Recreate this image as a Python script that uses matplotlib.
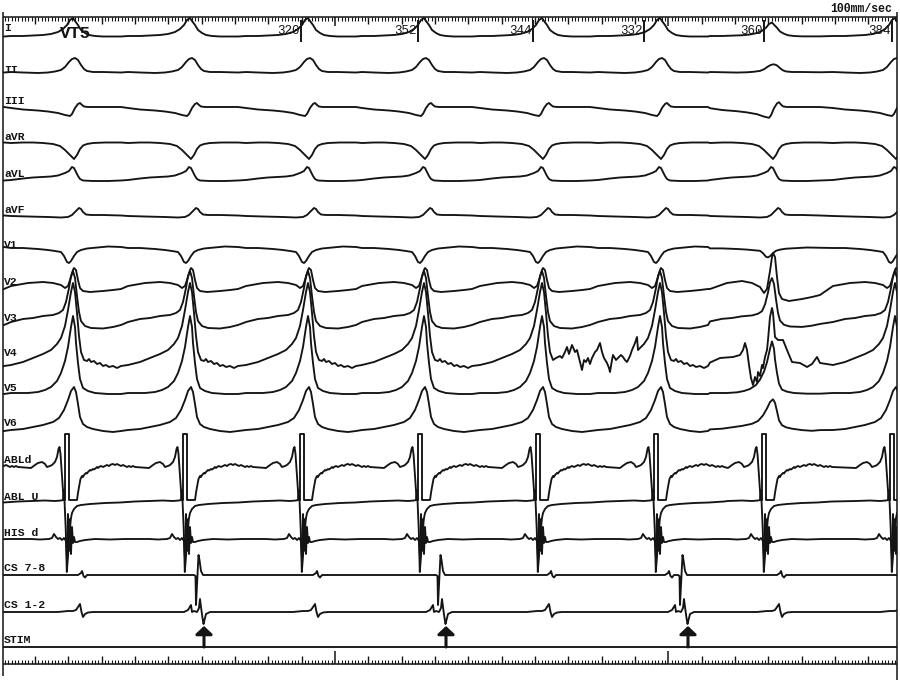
import numpy as np
import matplotlib
matplotlib.use("Agg")
import matplotlib.pyplot as plt
from matplotlib.patches import Rectangle

# ---------------- data (time in ms, amplitudes in px, positive = up) ----------------
qrs_ms = [-132, 219, 570, 924, 1272, 1626, 1980, 2316, 2685]     # surface QRS peaks
abl_ms = [-156, 195, 549, 900, 1254, 1608, 1962, 2286, 2670]     # ABL saturation onset
stim_ms = [612, 1338, 2064]                                      # CS stimuli
cl_values = [320, 352, 344, 332, 360, 384]                       # cycle-length labels
cl_marker_ms = [903, 1255, 1599, 1931, 2291, 2675]
irregular_beat = 7
irregular_gain = {"I": 0.75, "II": 0.55, "III": 1.2, "V1": 0.6, "V2": 2.0,
                  "V3": 0.85, "V4": 0.65, "V5": 0.67, "V6": 0.7}

channel_names = ["I", "II", "III", "aVR", "aVL", "aVF", "V1", "V2", "V3", "V4",
                 "V5", "V6", "ABLd", "ABL U", "HIS d", "CS 7-8", "CS 1-2", "STIM"]

TPL_I = [(-186, 0), (-150, 0), (-120, 0.5), (-90, 1), (-66, 2), (-45, 4), (-30, 7), (-18, 11),
         (-9, 16), (0, 18), (6, 15), (15, 11), (24, 6), (36, 3), (48, 1), (66, 0), (90, -0.5), (144, -0.5)]
TPL_II = [(-186, 0), (-150, -0.5), (-105, -1), (-75, -0.5), (-54, 0.5), (-36, 2), (-24, 5), (-12, 10),
          (-3, 13), (6, 14), (15, 12), (24, 7), (33, 3), (42, 1), (60, 0), (90, 0), (144, -0.5)]
TPL_III = [(-186, -1), (-150, -2.5), (-105, -3.5), (-75, -4.5), (-45, -6), (-24, -8), (-9, -9), (-3, -7),
           (6, -1), (15, 3), (21, 4), (27, 2), (33, 0.5), (45, 0), (90, 0), (144, 0)]
TPL_aVR = [(-186, 0), (-150, 0.5), (-120, 0.5), (-90, 0), (-60, -1), (-39, -3), (-24, -7), (-12, -11),
           (-3, -14), (3, -16), (12, -12), (21, -6), (30, -2.5), (42, -1), (60, 0), (96, 0.5), (144, 0.5)]
TPL_aVL = [(-186, 0), (-150, 1.5), (-120, 2.5), (-90, 3), (-66, 3.5), (-45, 4.5), (-24, 7), (-12, 9),
           (-3, 13), (3, 12), (9, 8), (15, 4), (21, 1), (30, -0.5), (60, -1), (105, -1), (144, -0.5)]
TPL_aVF = [(-186, -1), (-135, -1.5), (-75, -2), (-36, -2.5), (-15, -2), (-3, 0), (9, 4), (18, 7),
           (24, 6), (30, 3), (39, 0.5), (54, 0), (90, 0), (144, -0.5)]
TPL_V1 = [(-186, 1), (-150, 1), (-105, 0), (-75, -1), (-54, -2), (-36, -3), (-27, -7), (-18, -13),
          (-12, -14), (-6, -12), (3, -7), (12, -3), (24, -1), (42, 0.5), (75, 1.5), (105, 2.5), (144, 2)]
TPL_V2 = [(-186, -3), (-135, 0), (-90, 1), (-60, 0), (-36, -2), (-24, -5), (-15, -3), (-6, 6),
          (0, 13), (3, 15), (9, 13), (15, 3), (21, -5), (30, -8), (51, -9), (90, -8), (120, -7), (144, -6)]
TPL_V3 = [(-186, -4), (-150, -1), (-120, 0), (-90, 2), (-60, 3), (-42, 5), (-30, 8), (-21, 16),
          (-12, 30), (-6, 42), (0, 47), (6, 40), (12, 22), (18, 6), (24, -3), (36, -8), (54, -10),
          (90, -10.5), (120, -9), (144, -7)]
TPL_V4 = [(-186, -7), (-150, -4), (-120, 0), (-90, 4), (-66, 8), (-48, 14), (-36, 20), (-24, 32),
          (-15, 48), (-6, 66), (0, 75), (6, 66), (12, 45), (18, 22), (24, 6), (33, -2), (42, -3),
          (48, -1), (54, -4), (63, -3), (72, -6), (81, -5), (90, -8), (99, -7), (108, -9), (120, -8),
          (132, -10), (144, -8)]
TPL_V5 = [(-186, 0), (-135, 0), (-105, 1), (-84, 3), (-66, 6), (-48, 12), (-36, 20), (-24, 32),
          (-15, 46), (-6, 66), (0, 77), (6, 66), (9, 50), (15, 30), (21, 14), (30, 5), (45, 2),
          (66, 0), (105, -1), (144, -1)]
TPL_V6 = [(-186, -2), (-150, -1), (-120, 1), (-90, 3), (-60, 6), (-42, 10), (-27, 18), (-15, 28),
          (-6, 37), (3, 41), (9, 36), (15, 24), (21, 11), (30, 4), (42, 1), (60, -1), (90, -3),
          (120, -4), (144, -3)]

# V4 segments that differ from the repeated complex (noise / irregular beat)
V4_SEG_A = [(1668, 0), (1680, 2), (1686, 0), (1695, 6), (1701, 11), (1707, 4), (1716, 13), (1725, 6),
            (1731, 8), (1740, -4), (1746, -12), (1752, -2), (1758, -4), (1764, 0), (1770, -6),
            (1776, 0), (1785, 6), (1791, 8), (1800, 15), (1806, 6), (1812, 0), (1821, -5),
            (1827, -10), (1830, -14), (1836, -2), (1839, 3), (1848, -2), (1854, 0), (1863, 3),
            (1869, 1), (1875, -2), (1881, -4), (1890, 2), (1896, 8), (1905, 15), (1911, 21)]
V4_SEG_B = [(2160, 0), (2199, 1), (2220, 3), (2229, 8), (2235, 15), (2241, 8), (2247, -7),
            (2253, -20), (2259, -27), (2265, -19), (2271, -24), (2274, -14), (2280, -18),
            (2286, -7), (2289, -10), (2295, 1), (2301, 8), (2304, 18), (2310, 41), (2316, 50),
            (2319, 45), (2325, 21), (2334, 18), (2349, 18), (2361, 8), (2376, -4), (2400, -5),
            (2421, -9), (2436, -6), (2451, 1), (2460, -5)]

TPL_ABLd = [(-102, -2), (-90, 1), (-81, 3), (-69, 4), (-60, 2), (-54, -1), (-45, 0), (-39, 1),
            (-30, 4), (-24, 9), (-19.5, 17), (-16.5, 19), (-13.5, 12), (-9, -10), (-4.5, -32),
            (-1.5, -34), (0, -34), (0, 32), (12, 32), (12, -34), (36, -34), (39, -27), (42, -21),
            (46.5, -13), (51, -10), (54, -11), (57, -9), (63, -7), (66, -7.5), (69, -6), (72, -5),
            (75, -4), (78, -4.5), (84, -3), (87, -3.5), (93, -2), (96, -1), (99, -2), (102, -1),
            (108, 0), (114, -1), (120, 0), (126, 1), (132, 0), (138, 1.5), (144, 2), (150, 1),
            (156, 2), (162, 1), (168, 0), (174, 1), (180, 0), (186, -1), (192, 0), (198, -1),
            (204, 0), (210, -1)]
TPL_ABLU = [(-102, 0), (-60, 0.5), (-30, 0), (-12, 0.5), (-6, 1), (-3.6, 11), (-1.5, 1), (2.4, -30),
            (5.4, -71), (8.4, -58), (12, -40), (15, -26), (18, -17), (21, -12), (27, -8), (36, -5),
            (48, -4), (75, -3), (120, -2), (165, -1.5), (210, -0.5)]
TPL_HIS = [(-102, 0), (-75, -0.5), (-48, 0), (-39, 1), (-33, 5), (-27, 2), (-21, 0), (-15, 1),
           (-9, -1), (-3, 1), (3, -2), (6, -20), (9, 25), (12, -12), (15, 20), (18, -15), (21, 12),
           (24, -4), (27, 2), (30, -3), (36, -3), (45, -2), (60, -1), (90, 0), (135, -0.5),
           (180, 0), (210, 0)]

CS78_NATIVE = [(15, 0), (24, 2), (27, 4), (31.5, -1), (36, -2.5), (42, 0)]
CS78_STIM = [(-30, 0), (-25.5, -1), (-24, -30), (-21, -10), (-16.5, 20), (-13.5, 15), (-9, 4),
             (-3, 0), (6, 0)]
CS12_NATIVE = [(-45, 0), (-15, 1), (0, 1), (9, 2), (15, 5), (21, 8), (25.5, 0), (30, -5), (36, -2),
               (45, -0.5), (60, 0)]
CS12_STIM = [(-60, 0), (-48, 2), (-39, 7), (-36, 0), (-30, 1), (-21, 0), (-15, 4), (-12, 13),
             (-9, 5), (-4.5, -6), (-1.5, -12), (1.5, -8), (6, -2), (12, -1), (18, 0)]

# ---------------- layout ----------------
baseline_px = [36, 72, 107, 143, 180, 215, 249, 283, 318, 358, 393, 428, 466, 501, 539, 575, 612, 647]
label_px = [28, 70, 101, 137, 174, 210, 245, 282, 318, 353, 388, 423, 460, 497, 533, 568, 605, 640]
T_LEFT, T_RIGHT = 9, 2691
INK = "#141414"
MONO = ["Liberation Mono", "DejaVu Sans Mono"]


def repeat_complex(times, tpl, name=None):
    pts = []
    for i, t0 in enumerate(times):
        g = 1.0
        if name is not None and i == irregular_beat:
            g = irregular_gain.get(name, 1.0)
        pts.extend((t0 + dt, a * g) for dt, a in tpl)
    return pts


def replace_segment(pts, seg):
    s0, s1 = seg[0][0], seg[-1][0]
    return [p for p in pts if p[0] < s0] + list(seg) + [p for p in pts if p[0] > s1]


def event_trace(native_times, native_tpl, stim_times, stim_tpl):
    stim_win = [(s + stim_tpl[0][0], s + stim_tpl[-1][0]) for s in stim_times]
    events = [(s, stim_tpl) for s in stim_times]
    for t in native_times:
        a, b = t + native_tpl[0][0], t + native_tpl[-1][0]
        if all(b < w0 or a > w1 for w0, w1 in stim_win):
            events.append((t, native_tpl))
    events.sort(key=lambda e: e[0])
    pts = [(-200, 0)]
    for t0, tpl in events:
        pts.extend((t0 + dt, a) for dt, a in tpl)
    pts.append((2900, 0))
    return pts


surface = {"I": TPL_I, "II": TPL_II, "III": TPL_III, "aVR": TPL_aVR, "aVL": TPL_aVL, "aVF": TPL_aVF,
           "V1": TPL_V1, "V2": TPL_V2, "V3": TPL_V3, "V4": TPL_V4, "V5": TPL_V5, "V6": TPL_V6}

traces = {}
for name, tpl in surface.items():
    traces[name] = repeat_complex(qrs_ms, tpl, name)
traces["V4"] = replace_segment(replace_segment(traces["V4"], V4_SEG_A), V4_SEG_B)
traces["ABLd"] = repeat_complex(abl_ms, TPL_ABLd)
traces["ABL U"] = repeat_complex(abl_ms, TPL_ABLU)
traces["HIS d"] = repeat_complex(abl_ms, TPL_HIS)
traces["CS 7-8"] = event_trace(qrs_ms, CS78_NATIVE, stim_ms, CS78_STIM)
traces["CS 1-2"] = event_trace(qrs_ms, CS12_NATIVE, stim_ms, CS12_STIM)
traces["STIM"] = [(-200, 0), (2900, 0)]

# ---------------- drawing ----------------
fig = plt.figure(figsize=(9, 6.8), dpi=100)
ax = fig.add_axes([0, 0, 1, 1])
ax.set_xlim(0, 2700)
ax.set_ylim(680, 0)
ax.axis("off")

clip = Rectangle((T_LEFT, 0), T_RIGHT - T_LEFT, 680, transform=ax.transData)

for name, base in zip(channel_names, baseline_px):
    pts = np.array(traces[name], dtype=float)
    line, = ax.plot(pts[:, 0], base - pts[:, 1], color=INK, lw=1.35,
                    solid_joinstyle="round", solid_capstyle="round")
    line.set_clip_path(clip)

for name, ly in zip(channel_names, label_px):
    ax.text(12, ly, name, family=MONO, fontsize=8.2, fontweight="bold", color=INK,
            ha="left", va="center")

# frame
ax.vlines(T_LEFT, 12, 676, color=INK, lw=1.1)
ax.vlines(T_RIGHT, 12, 680, color=INK, lw=1.1)

# top time ruler
ticks = np.arange(15, T_RIGHT, 10)
ax.hlines(17, T_LEFT, T_RIGHT, color=INK, lw=1.1)
minor = ticks[(ticks - 5) % 100 != 0]
med = ticks[((ticks - 5) % 100 == 0) & ((ticks - 5) % 1000 != 0)]
major = ticks[(ticks - 5) % 1000 == 0]
ax.vlines(minor, 17, 21, color=INK, lw=0.8)
ax.vlines(med, 17, 24, color=INK, lw=1.0)
ax.vlines(major, 17, 26, color=INK, lw=1.1)

# bottom time ruler
ax.hlines(664, T_LEFT, T_RIGHT, color=INK, lw=1.1)
ax.vlines(minor, 660, 664, color=INK, lw=0.8)
ax.vlines(med, 656, 664, color=INK, lw=1.0)
ax.vlines(major, 651, 664, color=INK, lw=1.1)

# stimulus arrows
for s in stim_ms:
    ax.annotate("", xy=(s, 626), xytext=(s, 647),
                arrowprops=dict(arrowstyle="-|>,head_length=0.3,head_width=0.32",
                                color=INK, lw=2.2, mutation_scale=16,
                                shrinkA=0, shrinkB=0))

# cycle-length markers
for m, v in zip(cl_marker_ms, cl_values):
    ax.vlines(m, 20, 42, color=INK, lw=1.4)
    ax.text(m - 4, 31, str(v), family=MONO, fontsize=9, color=INK, ha="right", va="center")

ax.text(180, 34, "VT5", family=MONO, fontsize=12.5, fontweight="bold", color=INK,
        ha="left", va="center")
ax.text(2676, 9, "100mm/sec", family=MONO, fontsize=8.3, fontweight="bold", color=INK,
        ha="right", va="center")

fig.savefig("out.png", dpi=100, facecolor="white")
